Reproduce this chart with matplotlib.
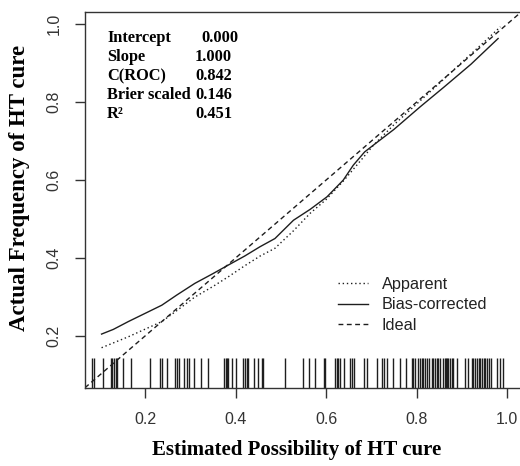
import matplotlib
matplotlib.use("Agg")
import matplotlib.pyplot as plt

# ---- data ----
app_x = [0.104, 0.163, 0.237, 0.27, 0.31, 0.35, 0.384, 0.42, 0.454, 0.487, 0.528,
         0.565, 0.60, 0.64, 0.68, 0.705, 0.75, 0.80, 0.85, 0.90, 0.95, 0.985]
app_y = [0.170, 0.198, 0.237, 0.265, 0.300, 0.327, 0.352, 0.380, 0.405, 0.425, 0.470,
         0.515, 0.550, 0.600, 0.655, 0.690, 0.742, 0.795, 0.848, 0.902, 0.955, 0.993]

bias_x = [0.104, 0.13, 0.163, 0.20, 0.237, 0.27, 0.31, 0.35, 0.384, 0.42, 0.454, 0.487,
          0.528, 0.565, 0.602, 0.638, 0.66, 0.685, 0.705, 0.75, 0.808, 0.86, 0.92, 0.98]
bias_y = [0.205, 0.217, 0.237, 0.258, 0.279, 0.305, 0.335, 0.360, 0.382, 0.405, 0.429, 0.450,
          0.497, 0.525, 0.557, 0.600, 0.638, 0.672, 0.690, 0.730, 0.788, 0.838, 0.897, 0.963]

rug_x = [0.082, 0.087, 0.108, 0.125, 0.128, 0.131, 0.136, 0.139, 0.151, 0.168, 0.211,
         0.233, 0.237, 0.249, 0.266, 0.270, 0.276, 0.286, 0.292, 0.297, 0.309, 0.324,
         0.340, 0.375, 0.378, 0.381, 0.384, 0.392, 0.401, 0.417, 0.421, 0.425, 0.427,
         0.440, 0.449, 0.458, 0.460, 0.509, 0.548, 0.563, 0.576, 0.596, 0.598, 0.619,
         0.624, 0.627, 0.631, 0.640, 0.653, 0.657, 0.661, 0.683, 0.690, 0.713, 0.723,
         0.727, 0.734, 0.747, 0.764, 0.776, 0.789, 0.793, 0.797, 0.804, 0.808, 0.811,
         0.815, 0.819, 0.823, 0.828, 0.834, 0.837, 0.841, 0.845, 0.848, 0.852, 0.859,
         0.863, 0.865, 0.868, 0.870, 0.874, 0.878, 0.881, 0.889, 0.907, 0.914, 0.922,
         0.925, 0.929, 0.933, 0.937, 0.940, 0.944, 0.948, 0.951, 0.955, 0.959, 0.964,
         0.977, 0.985, 0.990]

stat_names = ["Intercept", "Slope", "C(ROC)", "Brier scaled", "R\u00b2"]
stat_values = ["0.000", "1.000", "0.842", "0.146", "0.451"]

x_ticks = [0.2, 0.4, 0.6, 0.8, 1.0]
y_ticks = [0.2, 0.4, 0.6, 0.8, 1.0]
tick_labels = ["0.2", "0.4", "0.6", "0.8", "1.0"]

legend_labels = ["Apparent", "Bias-corrected", "Ideal"]

# ---- figure ----
W, H = 520, 466
fig = plt.figure(figsize=(W / 100, H / 100), dpi=100)
ax = fig.add_axes([85 / W, 1 - 388 / H, (523 - 85) / W, (388 - 12) / H])
ax.set_xlim(0.0674, 1.035)
ax.set_ylim(0.0667, 1.031)

lc = "#1e1e1e"
l1, = ax.plot(app_x, app_y, color=lc, lw=1.0, linestyle=(0, (1, 2)))
l2, = ax.plot(bias_x, bias_y, color=lc, lw=1.0, linestyle="-")
l3 = ax.axline((0, 0), slope=1, color=lc, lw=1.0, linestyle=(0, (3.5, 2.5)))

ax.vlines(rug_x, 0.0667, 0.144, color=lc, lw=1.0)

ax.spines["right"].set_visible(False)
for s in ["left", "top", "bottom"]:
    ax.spines[s].set_color("#333333")
    ax.spines[s].set_linewidth(1.0)

ax.set_xticks(x_ticks)
ax.set_xticklabels(tick_labels)
ax.set_yticks(y_ticks)
ax.set_yticklabels(tick_labels, rotation=90, va="center")
ax.tick_params(axis="both", direction="out", length=7, width=1.0, color="#333333",
               labelsize=11.5, labelcolor="#333333", pad=10)
for t in ax.get_xticklabels() + ax.get_yticklabels():
    t.set_fontfamily("Liberation Sans")

# stats text
row_y = [38, 57, 76, 95, 114]
val_left = [201.5, 195, 195, 195, 195]
for name, val, yy, vx in zip(stat_names, stat_values, row_y, val_left):
    fig.text(107 / W, 1 - yy / H, name, fontfamily="Liberation Serif", fontweight="bold",
             fontsize=11.8, va="center", ha="left")
    fig.text(vx / W, 1 - yy / H, val, fontfamily="Liberation Serif", fontweight="bold",
             fontsize=11.8, va="center", ha="left")

# legend
leg = ax.legend([l1, l2, l3], legend_labels, loc="upper left",
                bbox_to_anchor=(338 / W, 1 - 277 / H), bbox_transform=fig.transFigure,
                frameon=False, handlelength=1.85, handletextpad=0.85, labelspacing=0.33,
                borderpad=0, borderaxespad=0,
                prop={"family": "Liberation Sans", "size": 11.7})
for t in leg.get_texts():
    t.set_color("#222222")

# axis labels
fig.text(296.7 / W, 1 - 450 / H, "Estimated Possibility of HT cure",
         fontfamily="Liberation Serif", fontweight="bold", fontsize=15,
         ha="center", va="center")
fig.text(20 / W, 1 - 188 / H, "Actual Frequency of HT cure",
         fontfamily="Liberation Serif", fontweight="bold", fontsize=16.5,
         ha="center", va="center", rotation=90)

fig.savefig("out.png", dpi=100)
